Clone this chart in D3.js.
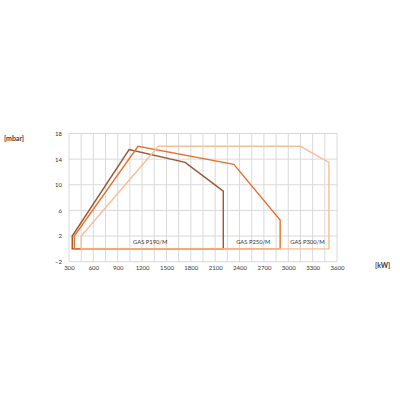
<!DOCTYPE html>
<html><head><meta charset="utf-8">
<script src="https://cdn.jsdelivr.net/npm/d3@7"></script>
<style>body{margin:0;background:#fff}svg{display:block}</style>
</head><body>
<script>
const seriesNames = ["GAS P190/M", "GAS P250/M", "GAS P300/M"];
const p190 = [[340,0],[340,2],[1040,15.5],[1730,13.5],[2200,9],[2200,0]];
const p250 = [[365,0],[365,2],[1150,16],[2330,13.2],[2900,4.5],[2900,0]];
const p300 = [[450,0],[450,2],[1400,16],[3150,16],[3500,13.5],[3500,0]];
const xTicks = [300,600,900,1200,1500,1800,2100,2400,2700,3000,3300,3600];
const yTicks = [-2,2,6,10,14,18];

const colors = ["#9b5530", "#e8702c", "#f8be96"];
const labelAt = [[1300,0.7],[2570,0.7],[3235,0.7]];

const svg = d3.select("body").append("svg").attr("width",400).attr("height",400);
const x = d3.scaleLinear().domain([300,3600]).range([69,337]);
const y = d3.scaleLinear().domain([-2,18]).range([261.7,133.5]);
const font = "Lato, 'DejaVu Sans', sans-serif";

// grid
const g = svg.append("g");
g.selectAll("line.v").data(d3.range(300,3601,150)).join("line")
  .attr("x1",d=>x(d)).attr("x2",d=>x(d)).attr("y1",y(18)).attr("y2",y(-2))
  .attr("stroke","#d9d9d9").attr("stroke-width",1);
g.selectAll("line.h").data(yTicks).join("line")
  .attr("x1",x(300)).attr("x2",x(3600)).attr("y1",d=>y(d)).attr("y2",d=>y(d))
  .attr("stroke","#d9d9d9").attr("stroke-width",1);

// axes labels
const xa = svg.append("g").attr("transform",`translate(0,${y(-2)})`)
  .call(d3.axisBottom(x).tickValues(xTicks).tickFormat(d3.format("d")).tickSize(0).tickPadding(4));
xa.select(".domain").remove();
xa.selectAll("text").attr("font-family",font).attr("font-size",6).attr("fill","#333");
const ya = svg.append("g").attr("transform",`translate(${x(300)},0)`)
  .call(d3.axisLeft(y).tickValues(yTicks).tickFormat(d3.format("d")).tickSize(0).tickPadding(7));
ya.select(".domain").remove();
ya.selectAll("text").attr("font-family",font).attr("font-size",6).attr("fill","#333");

// series
const line = d3.line().x(d=>x(d[0])).y(d=>y(d[1]));
[p190,p250,p300].forEach((s,i)=>{
  svg.append("path").attr("d", line(s)+"Z").attr("fill","none")
    .attr("stroke",colors[i]).attr("stroke-width",1.4).attr("stroke-linejoin","miter");
});

seriesNames.forEach((n,i)=>{
  svg.append("text").attr("x",x(labelAt[i][0])).attr("y",y(labelAt[i][1]))
    .attr("text-anchor","middle").attr("font-family",font).attr("font-size",5.8)
    .attr("fill","#333").text(n);
});

svg.append("text").attr("x",4).attr("y",141).attr("font-family",font)
  .attr("font-size",7).attr("font-weight","bold").attr("fill","#4a3530").text("[mbar]");
svg.append("text").attr("x",375).attr("y",268).attr("font-family",font)
  .attr("font-size",7).attr("font-weight","bold").attr("fill","#4a3530").text("[kW]");
</script>
</body></html>
